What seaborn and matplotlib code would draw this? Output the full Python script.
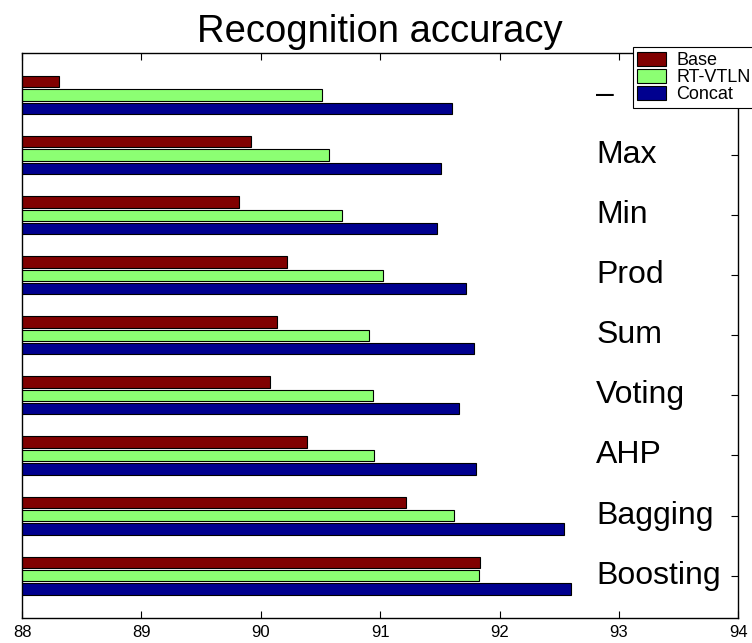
import matplotlib
matplotlib.use("Agg")
import matplotlib.pyplot as plt
import pandas as pd
import seaborn as sns

categories = ["–", "Max", "Min", "Prod", "Sum", "Voting", "AHP", "Bagging", "Boosting"]
base = [88.31, 89.92, 89.82, 90.22, 90.14, 90.08, 90.39, 91.22, 91.84]
rt_vtln = [90.51, 90.57, 90.68, 91.02, 90.91, 90.94, 90.95, 91.62, 91.83]
concat = [91.60, 91.51, 91.48, 91.72, 91.79, 91.66, 91.80, 92.54, 92.60]
series = ["Base", "RT-VTLN", "Concat"]
colors = ["#800000", "#8cff73", "#00008f"]
x_ticks = [88, 89, 90, 91, 92, 93, 94]

df = pd.DataFrame({
    "method": categories * 3,
    "accuracy": base + rt_vtln + concat,
    "system": [s for s in series for _ in categories],
})

sns.set_style("white")
plt.rcParams["font.family"] = ["Liberation Sans", "DejaVu Sans"]
plt.rcParams["text.color"] = "black"
plt.rcParams["xtick.color"] = "black"
plt.rcParams["ytick.color"] = "black"

fig = plt.figure(figsize=(7.52, 6.43), dpi=100)
ax = fig.add_axes([22 / 752, 25.3 / 643, 716.3 / 752, 564.7 / 643])

sns.barplot(
    data=df, x="accuracy", y="method", hue="system",
    order=categories, hue_order=series, palette=colors, saturation=1,
    orient="h", width=0.667, gap=0.15,
    edgecolor="black", linewidth=0.8, ax=ax,
)

ax.set_xlim(88, 94)
ax.set_ylim(len(categories) - 0.3, -0.7)
ax.set_xticks(x_ticks)
ax.set_xticklabels([str(t) for t in x_ticks], fontsize=12)
ax.set_xlabel("")
ax.set_ylabel("")

# category names sit inside the axes, near the right edge
for i, name in enumerate(categories):
    ax.text(92.81, i, name, ha="left", va="center", fontsize=23)

ax.yaxis.tick_right()
ax.set_yticks(range(len(categories)))
ax.set_yticklabels([])
ax.tick_params(axis="y", direction="in", length=5, width=0.8, right=True, left=False)
ax.tick_params(axis="x", direction="in", length=5, width=0.8, top=True, bottom=True, pad=5)
for sp in ax.spines.values():
    sp.set_color("black")
    sp.set_linewidth(1.0)

ax.set_title("Recognition accuracy", fontsize=27.5, pad=8, color="black")

handles, labels = ax.get_legend_handles_labels()
ax.legend(
    handles, labels, loc="upper left", bbox_to_anchor=(0.8526, 1.0101),
    borderaxespad=0, fontsize=13, frameon=True, fancybox=False,
    edgecolor="black", framealpha=1, handlelength=1.6, handleheight=0.8,
    labelspacing=0.0, borderpad=0.25, handletextpad=0.55,
)
ax.get_legend().get_frame().set_linewidth(0.8)

fig.savefig("out.png", dpi=100)
